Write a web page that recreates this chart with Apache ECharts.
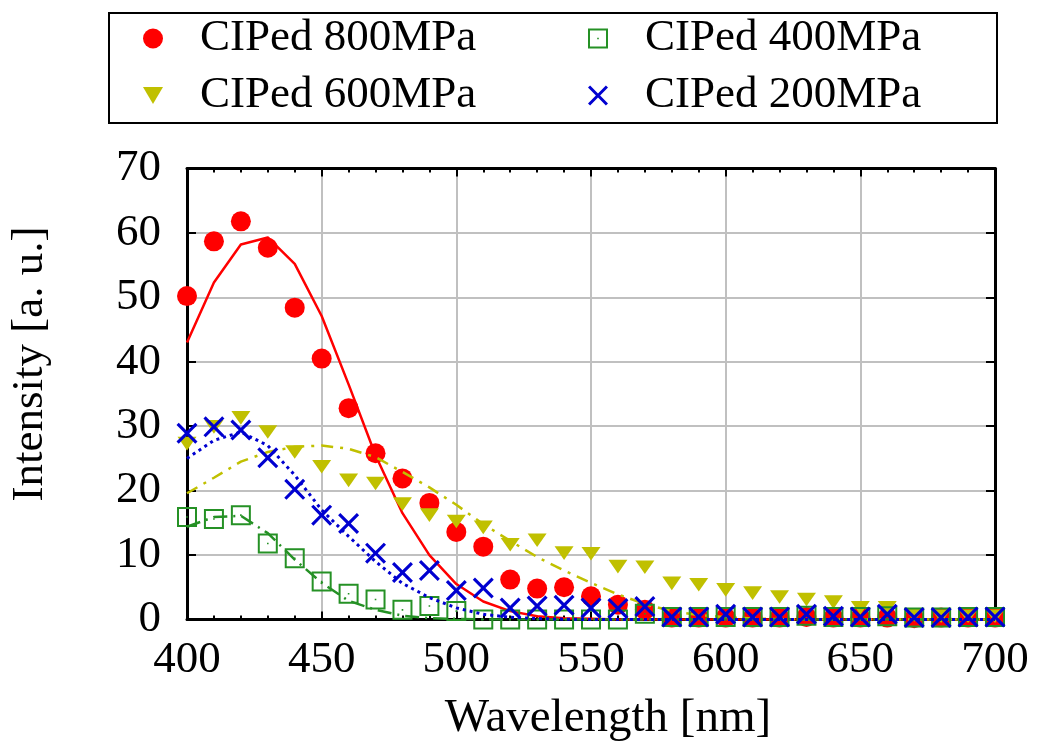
<!DOCTYPE html>
<html>
<head>
<meta charset="utf-8">
<script src="https://cdn.jsdelivr.net/npm/echarts@6/dist/echarts.min.js"></script>
<style>
  html, body { margin: 0; padding: 0; background: #fff; }
  #chart { width: 1038px; height: 755px; }
</style>
</head>
<body>
<div id="chart"></div>
<script>
// Emission spectra of CIPed samples (measured points + fitted curves)
const wavelength = [400, 410, 420, 430, 440, 450, 460, 470, 480, 490,
                    500, 510, 520, 530, 540, 550, 560, 570, 580, 590,
                    600, 610, 620, 630, 640, 650, 660, 670, 680, 690, 700];

const seriesNames = ['CIPed 800MPa', 'CIPed 600MPa', 'CIPed 400MPa', 'CIPed 200MPa'];

// measured intensities
const mpa800 = [50.2, 58.7, 61.8, 57.7, 48.4, 40.5, 32.8, 25.8, 21.9, 18.1,
                13.6, 11.3, 6.2, 4.8, 5.0, 3.6, 2.3, 1.5, 0.3, 0.3,
                0.3, 0.3, 0.3, 0.4, 0.3, 0.3, 0.3, 0.2, 0.3, 0.3, 0.3];
const mpa600 = [27.3, 29.9, 31.3, 29.1, 26.0, 23.7, 21.6, 21.1, 17.9, 16.2,
                15.2, 14.3, 11.6, 12.3, 10.3, 10.2, 8.2, 8.1, 5.6, 5.4,
                4.6, 4.1, 3.5, 3.1, 2.7, 1.8, 1.8, 0.7, 0.5, 0.5, 0.5];
const mpa400 = [15.9, 15.6, 16.2, 11.8, 9.5, 5.9, 4.0, 3.1, 1.5, 2.1,
                1.3, 0.0, 0.0, 0.0, 0.0, 0.0, 0.0, 0.9, 0.4, 0.4,
                0.4, 0.4, 0.4, 0.6, 0.4, 0.4, 0.5, 0.3, 0.3, 0.4, 0.4];
const mpa200 = [28.9, 29.9, 29.4, 25.1, 20.2, 16.2, 14.9, 10.3, 7.3, 7.6,
                4.5, 4.9, 1.8, 2.1, 2.2, 1.8, 1.7, 2.0, 0.4, 0.4,
                0.8, 0.4, 0.4, 0.8, 0.5, 0.4, 0.8, 0.3, 0.3, 0.4, 0.4];

// fitted curves
const fit800 = [43.0, 52.3, 58.2, 59.3, 55.2, 47.1, 36.5, 25.5, 16.5, 10.0,
                5.5, 2.8, 1.3, 0.5, 0.2, 0.1, 0, 0, 0, 0,
                0, 0, 0, 0, 0, 0, 0, 0, 0, 0, 0];
const fit600 = [19.6, 22.0, 24.5, 26.0, 26.8, 27.0, 26.5, 25.2, 22.9, 20.5,
                17.8, 14.8, 12.2, 9.7, 7.6, 5.7, 3.9, 2.4, 1.3, 0.7,
                0.35, 0.15, 0.05, 0, 0, 0, 0, 0, 0, 0, 0];
const fit400 = [14.4, 15.9, 16.1, 13.4, 9.3, 5.7, 2.9, 1.5, 0.6, 0.2,
                0.1, 0, 0, 0, 0, 0, 0, 0, 0, 0,
                0, 0, 0, 0, 0, 0, 0, 0, 0, 0, 0];
const fit200 = [25.0, 27.8, 29.1, 27.0, 22.4, 17.0, 12.9, 9.0, 5.6, 3.4,
                1.8, 0.8, 0.35, 0.15, 0.05, 0, 0, 0, 0, 0,
                0, 0, 0, 0, 0, 0, 0, 0, 0, 0, 0];

const xTicks = [400, 450, 500, 550, 600, 650, 700];
const yTicks = [0, 10, 20, 30, 40, 50, 60, 70];

const FONT = "'Liberation Serif', 'Times New Roman', serif";
const RED = '#ff0000', YELLOW = '#c0c000', GREEN = '#259125', BLUE = '#0000d0';

// marker shapes
const SQUARE_DOT = 'path://M0,0L20,0L20,20L0,20Z M2,2L2,18L18,18L18,2Z M9.2,9.2L10.8,9.2L10.8,10.8L9.2,10.8Z';
const CROSS = 'path://M0,10.6L10.6,0L50,39.4L89.4,0L100,10.6L60.6,50L100,89.4L89.4,100L50,60.6L10.6,100L0,89.4L39.4,50Z';
const TRI_DOWN = 'path://M0,0L20,0L10,17Z';

const pairs = ys => wavelength.map((x, i) => [x, ys[i]]);

function scatter(name, ys, symbol, size, color, z) {
  return {
    name, type: 'scatter', data: pairs(ys), symbol, symbolSize: size,
    symbolKeepAspect: true, clip: false, z,
    itemStyle: { color, opacity: 1 },
    emphasis: { disabled: true }
  };
}
function fitLine(name, ys, color, type, width, z) {
  return {
    name, type: 'line', data: pairs(ys), showSymbol: false, symbol: 'none',
    smooth: false, z, silent: true,
    lineStyle: { color, width, type }
  };
}

const chart = echarts.init(document.getElementById('chart'), null, { renderer: 'canvas' });

const legendText = { fontFamily: FONT, fontSize: 45, color: '#000', lineHeight: 45, padding: [0, 0, 0, 32] };

const axisCommonX = {
  type: 'value', min: xTicks[0], max: xTicks[xTicks.length - 1], interval: 50
};
const axisCommonY = {
  type: 'value', min: yTicks[0], max: yTicks[yTicks.length - 1], interval: 10
};

chart.setOption({
  animation: false,
  backgroundColor: '#fff',
  grid: { left: 185, right: 43, top: 168.5, bottom: 135.5, containLabel: false },
  graphic: [{
    type: 'rect', left: 108, top: 12, z: 0,
    shape: { width: 888, height: 110 },
    style: { fill: '#fff', stroke: '#000', lineWidth: 2 }
  }],
  legend: [
    {
      data: [seriesNames[0], seriesNames[1]], orient: 'vertical', left: 143, top: 16,
      padding: 0, itemGap: 12, itemWidth: 20, itemHeight: 20, selectedMode: false,
      textStyle: legendText, z: 5
    },
    {
      data: [seriesNames[2], seriesNames[3]], orient: 'vertical', left: 588, top: 16,
      padding: 0, itemGap: 12, itemWidth: 20, itemHeight: 20, selectedMode: false,
      textStyle: legendText, z: 5
    }
  ],
  xAxis: [
    Object.assign({}, axisCommonX, {
      position: 'bottom',
      name: 'Wavelength [nm]', nameLocation: 'middle', nameGap: 76,
      nameTextStyle: { fontFamily: FONT, fontSize: 47, color: '#000', padding: [0, 0, 0, 34] },
      axisLine: { onZero: false, lineStyle: { color: '#000', width: 3 } },
      axisTick: { inside: true, length: 8, lineStyle: { color: '#000', width: 2 } },
      minorTick: { show: true, splitNumber: 5, length: 4, lineStyle: { color: '#000', width: 2 } },
      axisLabel: { fontFamily: FONT, fontSize: 45, color: '#000', margin: 18 },
      splitLine: { show: true, lineStyle: { color: '#c0c0c0', width: 2 } }
    }),
    Object.assign({}, axisCommonX, {
      position: 'top',
      axisLine: { onZero: false, lineStyle: { color: '#000', width: 3 } },
      axisTick: { inside: true, length: 8, lineStyle: { color: '#000', width: 2 } },
      minorTick: { show: true, splitNumber: 5, length: 4, lineStyle: { color: '#000', width: 2 } },
      axisLabel: { show: false },
      splitLine: { show: false }
    })
  ],
  yAxis: [
    Object.assign({}, axisCommonY, {
      position: 'left',
      name: 'Intensity [a. u.]', nameLocation: 'middle', nameGap: 134, nameRotate: 90,
      nameTextStyle: { fontFamily: FONT, fontSize: 45, color: '#000', padding: [0, 0, 0, 60] },
      axisLine: { show: true, onZero: false, lineStyle: { color: '#000', width: 3 } },
      axisTick: { show: true, inside: true, length: 9, lineStyle: { color: '#000', width: 2 } },
      axisLabel: { fontFamily: FONT, fontSize: 45, color: '#000', margin: 26 },
      splitLine: { show: true, lineStyle: { color: '#c0c0c0', width: 2 } }
    }),
    Object.assign({}, axisCommonY, {
      position: 'right',
      axisLine: { show: true, onZero: false, lineStyle: { color: '#000', width: 3 } },
      axisTick: { show: true, inside: true, length: 9, lineStyle: { color: '#000', width: 2 } },
      axisLabel: { show: false },
      splitLine: { show: false }
    })
  ],
  series: [
    scatter(seriesNames[0], mpa800, 'circle', 20, RED, 3),
    fitLine('fit 800MPa', fit800, RED, 'solid', 2.5, 3),
    scatter(seriesNames[1], mpa600, TRI_DOWN, [19, 16], YELLOW, 4),
    fitLine('fit 600MPa', fit600, YELLOW, [12, 7, 3, 7], 2.5, 4),
    scatter(seriesNames[2], mpa400, SQUARE_DOT, 20, GREEN, 5),
    fitLine('fit 400MPa', fit400, GREEN, [14, 6, 2, 6], 2.5, 5),
    scatter(seriesNames[3], mpa200, CROSS, 21, BLUE, 6),
    fitLine('fit 200MPa', fit200, BLUE, [3, 4], 3, 6)
  ]
});
</script>
</body>
</html>
